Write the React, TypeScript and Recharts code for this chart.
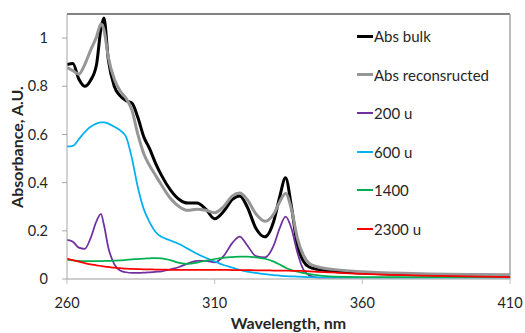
import React from 'react';
import { LineChart, Line, XAxis, YAxis, Legend, ReferenceLine } from 'recharts';

const wavelengths = [260, 262, 264, 266, 268, 270, 271.5, 272.5, 274, 276, 278, 280, 282, 284, 286, 288, 290, 292, 295, 298, 301, 304, 307, 310, 313, 316, 318.5, 321, 324, 327, 330, 332, 334, 336, 338, 340, 342, 345, 350, 360, 380, 410];

const absBulk = [0.89, 0.895, 0.83, 0.80, 0.825, 0.89, 1.04, 1.083, 0.91, 0.80, 0.76, 0.74, 0.73, 0.67, 0.59, 0.54, 0.48, 0.43, 0.37, 0.33, 0.315, 0.315, 0.29, 0.25, 0.28, 0.33, 0.345, 0.30, 0.21, 0.175, 0.24, 0.34, 0.42, 0.30, 0.14, 0.075, 0.05, 0.04, 0.032, 0.025, 0.018, 0.015];
const absRecon = [0.878, 0.865, 0.85, 0.89, 0.95, 1.005, 1.058, 1.035, 0.92, 0.83, 0.78, 0.75, 0.70, 0.60, 0.52, 0.47, 0.43, 0.39, 0.335, 0.30, 0.285, 0.29, 0.285, 0.275, 0.30, 0.345, 0.357, 0.33, 0.27, 0.24, 0.27, 0.32, 0.355, 0.29, 0.17, 0.10, 0.065, 0.05, 0.04, 0.03, 0.022, 0.018];
const u200 = [0.162, 0.155, 0.13, 0.125, 0.17, 0.24, 0.27, 0.225, 0.13, 0.062, 0.035, 0.028, 0.025, 0.025, 0.026, 0.028, 0.03, 0.032, 0.04, 0.05, 0.065, 0.075, 0.075, 0.069, 0.095, 0.15, 0.176, 0.14, 0.095, 0.09, 0.14, 0.21, 0.259, 0.21, 0.11, 0.04, 0.015, 0.005, 0.002, 0.001, 0, 0];
const u600 = [0.55, 0.553, 0.58, 0.61, 0.632, 0.645, 0.65, 0.65, 0.645, 0.632, 0.617, 0.59, 0.50, 0.38, 0.29, 0.235, 0.195, 0.175, 0.16, 0.145, 0.125, 0.105, 0.088, 0.073, 0.058, 0.047, 0.038, 0.031, 0.025, 0.02, 0.016, 0.014, 0.012, 0.011, 0.01, 0.009, 0.008, 0.007, 0.006, 0.005, 0.004, 0.003];
const u1400 = [0.08, 0.077, 0.075, 0.074, 0.074, 0.074, 0.074, 0.075, 0.075, 0.076, 0.077, 0.079, 0.081, 0.083, 0.085, 0.086, 0.087, 0.086, 0.078, 0.067, 0.063, 0.068, 0.076, 0.083, 0.088, 0.091, 0.093, 0.093, 0.09, 0.084, 0.072, 0.06, 0.047, 0.037, 0.03, 0.025, 0.02, 0.015, 0.01, 0.008, 0.008, 0.008];
const u2300 = [0.085, 0.078, 0.072, 0.066, 0.061, 0.057, 0.054, 0.052, 0.05, 0.047, 0.045, 0.043, 0.042, 0.041, 0.04, 0.04, 0.039, 0.039, 0.038, 0.038, 0.038, 0.038, 0.038, 0.038, 0.038, 0.037, 0.037, 0.037, 0.036, 0.036, 0.035, 0.035, 0.035, 0.034, 0.034, 0.033, 0.032, 0.03, 0.027, 0.021, 0.014, 0.008];

const xTicks = [260, 310, 360, 410];
const yTicks = [0, 0.2, 0.4, 0.6, 0.8, 1];

const seriesNames = ['Abs bulk', 'Abs reconsructed', '200 u', '600 u', '1400', '2300 u'];
const seriesKeys = ['bulk', 'recon', 'u200', 'u600', 'u1400', 'u2300'];
const seriesColors = ['#000000', '#969696', '#7030a0', '#00b0f0', '#00b050', '#ff0000'];
const seriesWidths = [3, 3, 1.75, 1.75, 1.75, 1.75];

const data = wavelengths.map((w, i) => ({
  wl: w,
  bulk: absBulk[i],
  recon: absRecon[i],
  u200: u200[i],
  u600: u600[i],
  u1400: u1400[i],
  u2300: u2300[i],
}));

const FONT = 'Lato, "Open Sans", sans-serif';

const renderLegend = () => (
  <div style={{ position: 'relative', width: 165, height: 230, fontFamily: FONT }}>
    {seriesNames.map((name, i) => (
      <div
        key={name}
        style={{
          position: 'absolute',
          left: 0,
          top: i * 38.6,
          height: 20,
          display: 'flex',
          alignItems: 'center',
          whiteSpace: 'nowrap',
        }}
      >
        <span
          style={{
            display: 'inline-block',
            width: 16,
            height: i < 2 ? 3 : 2,
            background: seriesColors[i],
            marginRight: 1,
          }}
        />
        <span style={{ fontSize: 15, color: '#262626' }}>{name}</span>
      </div>
    ))}
  </div>
);

export default function App() {
  return (
    <div style={{ position: 'absolute', left: 0, top: 0, width: 525, height: 333, background: '#fff' }}>
      <LineChart width={525} height={333} data={data} margin={{ top: 14, right: 15, bottom: 0, left: 0 }}>
        <XAxis
          dataKey="wl"
          type="number"
          domain={[260, 410]}
          ticks={xTicks}
          allowDataOverflow
          height={54}
          tickSize={5}
          tickMargin={14}
          axisLine={{ stroke: '#bfbfbf', strokeWidth: 1.5 }}
          tickLine={{ stroke: '#bfbfbf' }}
          tick={{ fontSize: 14.5, fill: '#262626', fontFamily: FONT }}
          label={{
            value: 'Wavelength, nm',
            content: () => (
              <text x={288.5} y={328.5} textAnchor="middle" fontSize={16} fontWeight="bold" fill="#262626" fontFamily={FONT}>
                Wavelength, nm
              </text>
            ),
          }}
        />
        <YAxis
          type="number"
          domain={[0, 1.1]}
          ticks={yTicks}
          allowDataOverflow
          width={67}
          tickSize={5}
          tickMargin={14}
          tickFormatter={(v: number) => String(Math.round(v * 10) / 10)}
          axisLine={{ stroke: '#a6a6a6' }}
          tickLine={{ stroke: '#a6a6a6' }}
          tick={{ fontSize: 14.5, fill: '#262626', fontFamily: FONT }}
          label={{
            value: 'Absorbance, A.U.',
            content: () => (
              <text
                x={23}
                y={147}
                textAnchor="middle"
                fontSize={16}
                fontWeight="bold"
                fill="#262626"
                fontFamily={FONT}
                transform="rotate(-90, 23, 147)"
              >
                Absorbance, A.U.
              </text>
            ),
          }}
        />
        <ReferenceLine y={1.1} stroke="#595959" strokeWidth={1.5} />
        <ReferenceLine x={410} stroke="#a6a6a6" strokeWidth={1.5} />
        {seriesKeys.map((k, i) => (
          <Line
            key={k}
            dataKey={k}
            name={seriesNames[i]}
            type="monotone"
            stroke={seriesColors[i]}
            strokeWidth={seriesWidths[i]}
            dot={false}
            activeDot={false}
            isAnimationActive={false}
          />
        ))}
        <Legend
          layout="vertical"
          align="center"
          verticalAlign="middle"
          wrapperStyle={{ left: 357, top: 26, width: 165 }}
          content={renderLegend}
        />
      </LineChart>
    </div>
  );
}
